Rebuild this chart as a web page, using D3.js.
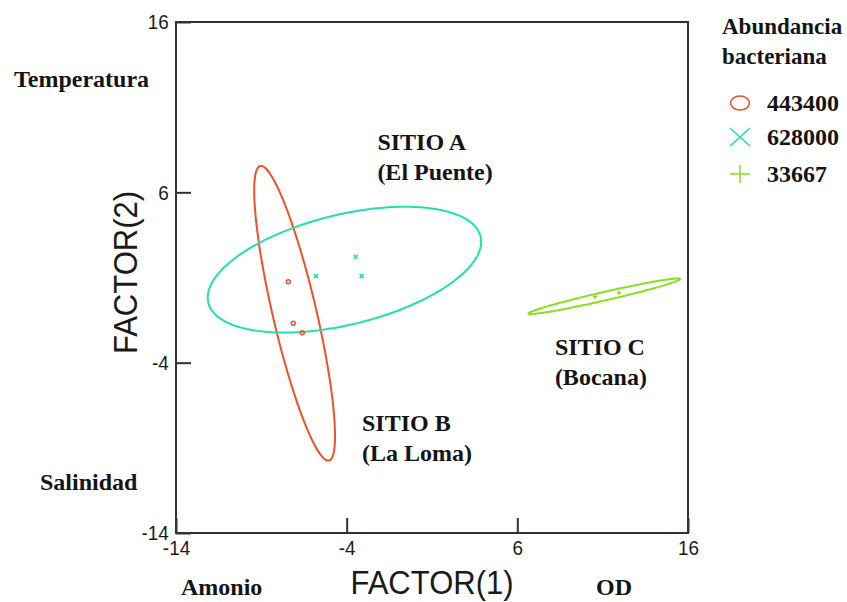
<!DOCTYPE html>
<html>
<head>
<meta charset="utf-8">
<script src="https://cdn.jsdelivr.net/npm/d3@7"></script>
<style>
  body { margin: 0; background: #fff; }
  .lbl { font-family: "Liberation Serif", "Times New Roman", serif; font-weight: bold; font-size: 24px; fill: #141414; }
  .axt { font-family: "Liberation Sans", Arial, sans-serif; fill: #1a1a1a; }
</style>
</head>
<body>
<div id="chart"></div>
<script>
// groups (sitios) and their abundance labels
const groups = ['443400', '628000', '33667'];
const groupColors = ['#f0502a', '#22e0a8', '#88e020'];
const groupShapes = ['circle', 'cross', 'plus'];

// factor scores per group
const pointsX = [
    [-7.42, -7.13, -6.60],
    [-5.80, -3.47, -3.12],
    [10.55, 11.95]
];
const pointsY = [
    [0.75, -1.69, -2.24],
    [1.08, 2.22, 1.08],
    [-0.13, 0.10]
];

// confidence ellipses: center, semi-axes (data units), rotation (deg)
const ellCx = [-7.05, -4.13, 11.1];
const ellCy = [-1.10, 1.46, -0.10];
const ellA = [8.88, 8.21, 4.56];
const ellB = [1.28, 3.23, 0.25];
const ellAngle = [103.1, 13.7, 12.9];

const tickValues = [-14, -4, 6, 16];
const siteLabels = [
    { lines: ['SITIO A', '(El Puente)'], x: -2.2, y: 8.5 },
    { lines: ['SITIO B', '(La Loma)'], x: -3.1, y: -8.0 },
    { lines: ['SITIO C', '(Bocana)'], x: 8.2, y: -3.55 }
];

const width = 847, height = 602;
const svg = d3.select('#chart').append('svg')
    .attr('width', width)
    .attr('height', height);

svg.append('rect').attr('width', width).attr('height', height).attr('fill', '#fff');

const x = d3.scaleLinear().domain([-14, 16]).range([176, 688]);
const y = d3.scaleLinear().domain([-14, 16]).range([533, 22]);

// axes with inward ticks
const xAxis = svg.append('g')
    .attr('transform', `translate(0,${y(-14)})`)
    .call(d3.axisBottom(x).tickValues(tickValues).tickSizeInner(-15).tickSizeOuter(0).tickPadding(7).tickFormat(d => String(d)));
const yAxis = svg.append('g')
    .attr('transform', `translate(${x(-14)},0)`)
    .call(d3.axisLeft(y).tickValues(tickValues).tickSizeInner(-15).tickSizeOuter(0).tickPadding(8).tickFormat(d => String(d)));

[xAxis, yAxis].forEach(ax => {
    ax.select('.domain').remove();
    ax.selectAll('line').attr('stroke', '#333').attr('stroke-width', 2);
    ax.selectAll('text')
        .attr('class', 'axt')
        .style('font-size', '21px')
        .attr('fill', '#1a1a1a')
        .attr('transform', 'scale(0.9,1)');
});

// frame
svg.append('rect')
    .attr('x', x(-14)).attr('y', y(16))
    .attr('width', x(16) - x(-14)).attr('height', y(-14) - y(16))
    .attr('fill', 'none').attr('stroke', '#333').attr('stroke-width', 2);

// ellipses
const ellipseLine = d3.line().x(d => x(d[0])).y(d => y(d[1]));
groups.forEach((g, i) => {
    const th = ellAngle[i] * Math.PI / 180;
    const pts = d3.range(0, 361, 3).map(deg => {
        const t = deg * Math.PI / 180;
        return [
            ellCx[i] + ellA[i] * Math.cos(t) * Math.cos(th) - ellB[i] * Math.sin(t) * Math.sin(th),
            ellCy[i] + ellA[i] * Math.cos(t) * Math.sin(th) + ellB[i] * Math.sin(t) * Math.cos(th)
        ];
    });
    svg.append('path')
        .datum(pts)
        .attr('d', ellipseLine)
        .attr('fill', 'none')
        .attr('stroke', groupColors[i])
        .attr('stroke-width', 2);
});

function drawMarker(sel, shape, color, sx, sy) {
    if (shape === 'circle') {
        sel.append('ellipse').attr('rx', sx).attr('ry', sy)
            .attr('fill', 'none').attr('stroke', color).attr('stroke-width', 1.5);
    } else if (shape === 'cross') {
        sel.append('path').attr('d', `M${-sx},${-sy}L${sx},${sy}M${-sx},${sy}L${sx},${-sy}`)
            .attr('stroke', color).attr('stroke-width', 1.5);
    } else {
        sel.append('path').attr('d', `M${-sx},0L${sx},0M0,${-sy}L0,${sy}`)
            .attr('stroke', color).attr('stroke-width', 1.5);
    }
}

// points
groups.forEach((g, i) => {
    pointsX[i].forEach((px, j) => {
        const m = svg.append('g').attr('transform', `translate(${x(px)},${y(pointsY[i][j])})`);
        drawMarker(m, groupShapes[i], groupColors[i], 2, 2);
    });
});

// site labels
siteLabels.forEach(s => {
    const t = svg.append('text').attr('class', 'lbl')
        .attr('x', x(s.x)).attr('y', y(s.y));
    s.lines.forEach((ln, k) => {
        t.append('tspan').attr('x', x(s.x)).attr('dy', k === 0 ? 0 : 30).text(ln);
    });
});

// variable annotations
svg.append('text').attr('class', 'lbl').attr('x', 14).attr('y', 87).text('Temperatura');
svg.append('text').attr('class', 'lbl').attr('x', 40).attr('y', 490).text('Salinidad');
svg.append('text').attr('class', 'lbl').attr('x', 181).attr('y', 595).text('Amonio');
svg.append('text').attr('class', 'lbl').attr('x', 596).attr('y', 595).text('OD');

// axis titles
svg.append('text').attr('class', 'axt')
    .attr('transform', `translate(${(x(-14) + x(16)) / 2},594) scale(0.94,1)`)
    .attr('text-anchor', 'middle')
    .style('font-size', '33px')
    .text('FACTOR(1)');
svg.append('text').attr('class', 'axt')
    .attr('transform', `translate(137,${(y(-14) + y(16)) / 2 - 5}) rotate(-90) scale(0.94,1)`)
    .attr('text-anchor', 'middle')
    .style('font-size', '33px')
    .text('FACTOR(2)');

// legend
const legend = svg.append('g').attr('transform', 'translate(722,0)');
legend.append('text').attr('class', 'lbl').style('font-size', '23px').attr('x', 0).attr('y', 34).text('Abundancia');
legend.append('text').attr('class', 'lbl').style('font-size', '23px').attr('x', 0).attr('y', 64).text('bacteriana');
const legY = [103, 137, 174];
groups.forEach((g, i) => {
    const item = legend.append('g').attr('transform', `translate(18,${legY[i]})`);
    drawMarker(item, groupShapes[i], groupColors[i], groupShapes[i] === 'circle' ? 9.5 : 10, groupShapes[i] === 'circle' ? 7 : 9);
    item.append('text').attr('class', 'lbl').attr('x', 27).attr('y', 8).style('font-size', '24px').text(g);
});
</script>
</body>
</html>
